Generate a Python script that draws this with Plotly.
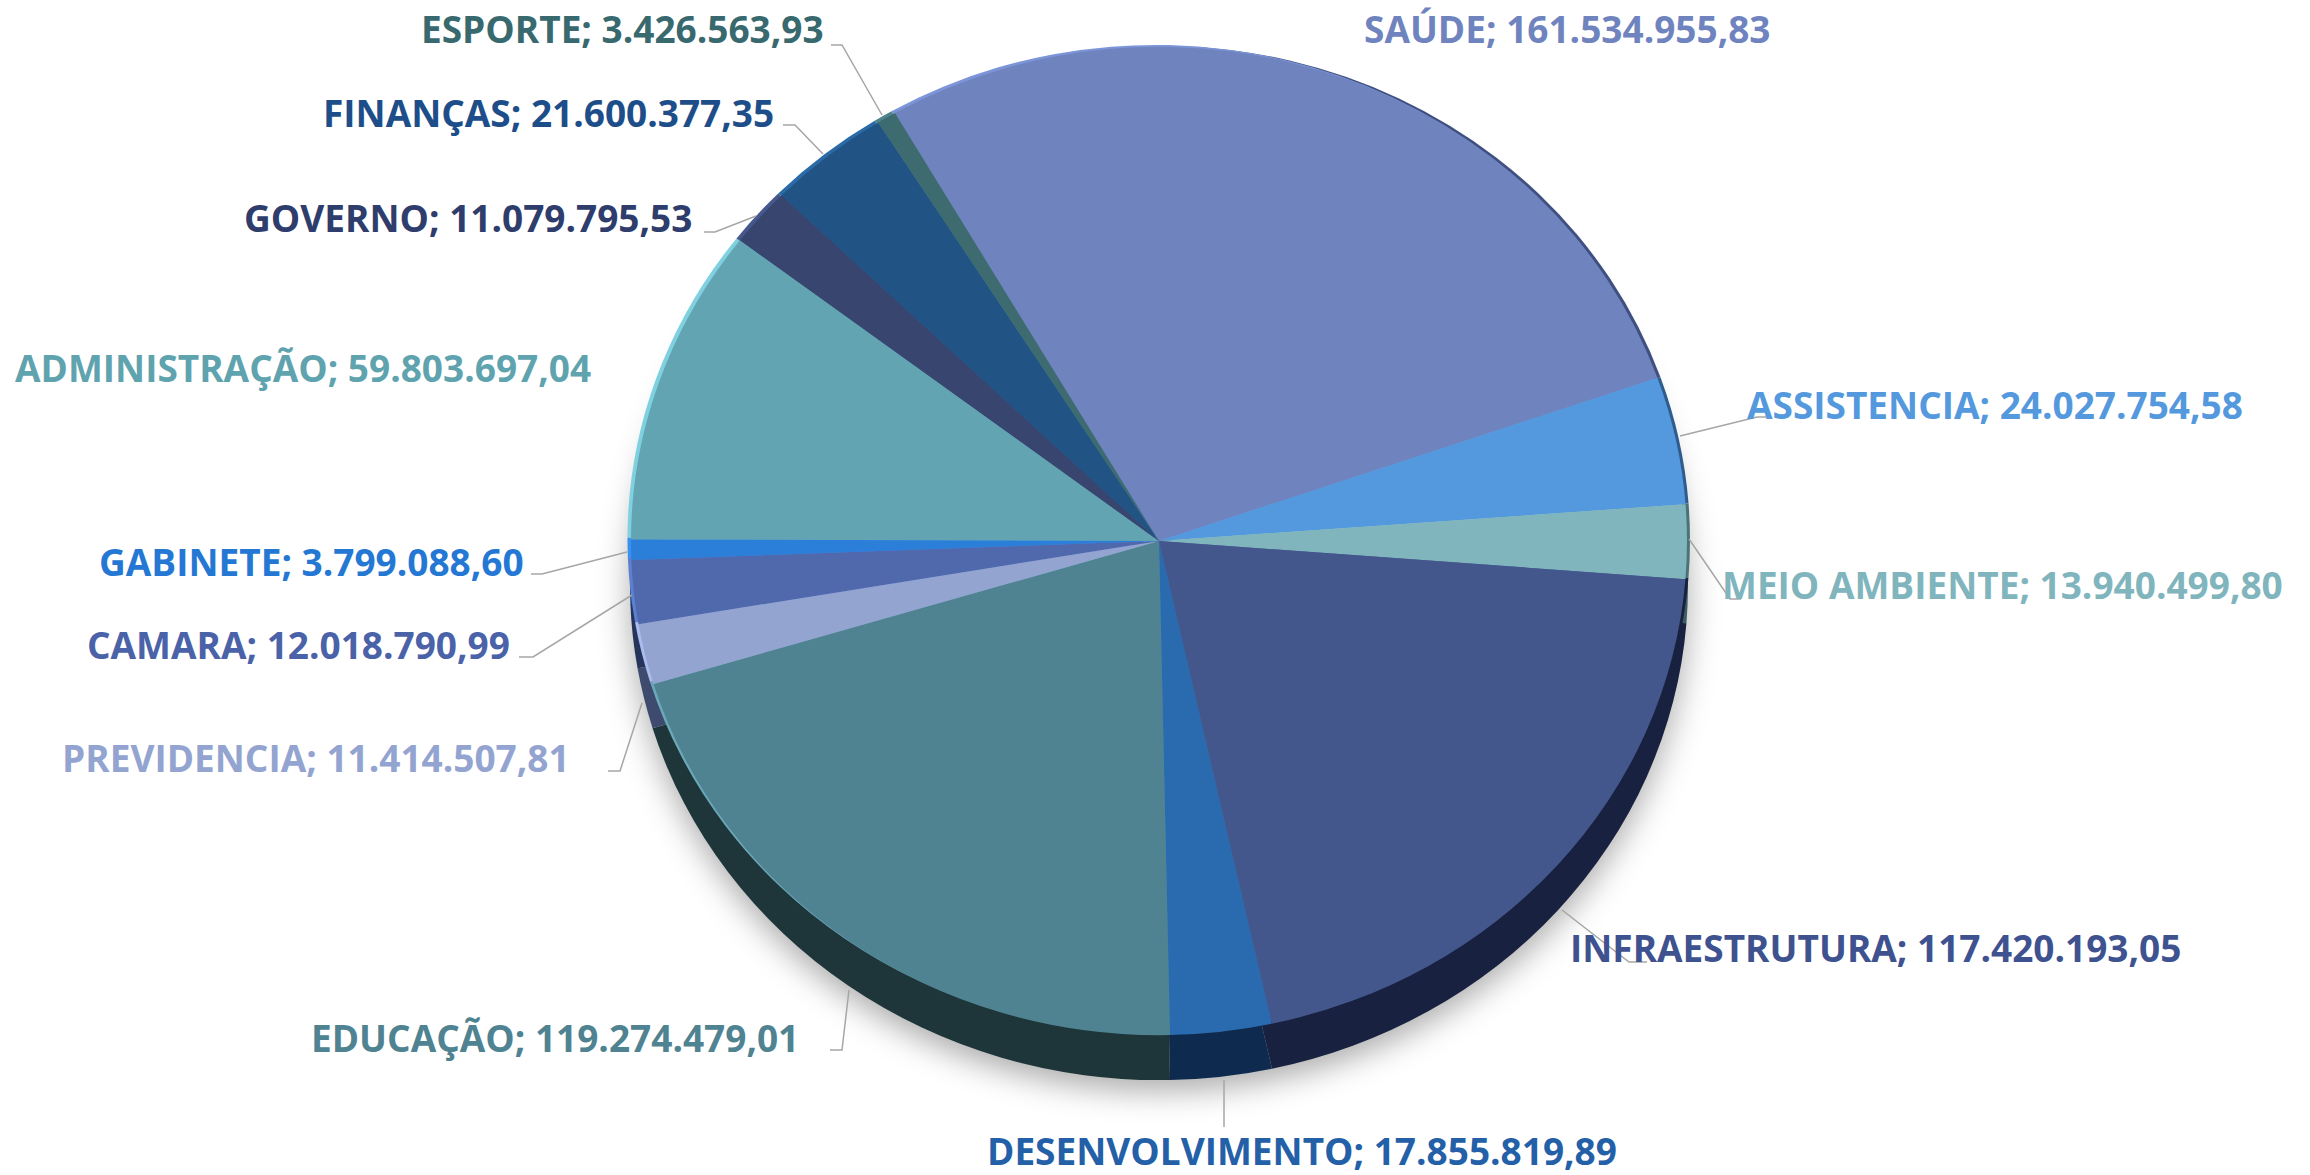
import plotly.graph_objects as go

# ---- data ----
categories = ["SAÚDE", "ASSISTENCIA", "MEIO AMBIENTE", "INFRAESTRUTURA", "DESENVOLVIMENTO",
              "EDUCAÇÃO", "PREVIDENCIA", "CAMARA", "GABINETE", "ADMINISTRAÇÃO",
              "GOVERNO", "FINANÇAS", "ESPORTE"]
values = [161534955.83, 24027754.58, 13940499.80, 117420193.05, 17855819.89,
          119274479.01, 11414507.81, 12018790.99, 3799088.60, 59803697.04,
          11079795.53, 21600377.35, 3426563.93]

# ---- styles ----
face_colors = ["#6F84BE", "#5499DD", "#80B5BD", "#43578C", "#2A6BAF", "#4F8391", "#93A4D1",
               "#5069AD", "#2C7FD9", "#62A4B1", "#37456F", "#215385", "#3E6B70"]
label_colors = ["#6F84BE", "#5499DD", "#80B5BD", "#3F5290", "#2460A8", "#4F8391", "#93A4D1",
                "#4A62A8", "#2478D4", "#5FA3AF", "#2E3D6B", "#1D4E89", "#38696E"]
depth_colors = ["#2F3A5C", "#244E78", "#3C5E63", "#18213F", "#0E2A4E", "#1E353A", "#3E4A6E",
                "#26345C", "#154A80", "#2B545C", "#171E36", "#0D2440", "#1C3336"]
rim_light = ["#7C95D8", "#62AAEE", "#8CC8D0", "#4F669F", "#3079C0", "#6BA8B8", "#AABBEE",
             "#5D7FD0", "#3A90F0", "#7FD0E0", "#45578C", "#2A6AA6", "#4E858B"]
rim_dark = ["#3F5080", "#2F5C8F", "#4A7378", "#18213F", "#0E2A4E", "#1E353A", "#4A5880",
            "#26345C", "#154A80", "#2B545C", "#171E36", "#0D2440", "#1C3336"]

# label centres and leader lines in pixels of the 2310x1175 canvas
W, H = 2310, 1175
label_pos = {"SAÚDE": (1567, 29), "ASSISTENCIA": (1995, 404), "MEIO AMBIENTE": (2002, 585),
             "INFRAESTRUTURA": (1875, 947), "DESENVOLVIMENTO": (1302, 1150), "EDUCAÇÃO": (555, 1037),
             "PREVIDENCIA": (316, 757), "CAMARA": (298, 644), "GABINETE": (311, 561),
             "ADMINISTRAÇÃO": (303, 368), "GOVERNO": (468, 218), "FINANÇAS": (548, 112),
             "ESPORTE": (622, 29)}
leaders = [[(831, 45), (842, 45), (882, 115)], [(783, 125), (795, 125), (823, 154)],
           [(704, 232), (715, 232), (756, 216)], [(531, 574), (542, 574), (627, 552)],
           [(519, 657), (533, 657), (632, 595)], [(608, 771), (620, 771), (642, 703)],
           [(830, 1050), (842, 1050), (849, 990)], [(1224, 1127), (1224, 1080)],
           [(1647, 962), (1629, 962), (1562, 910)], [(1741, 599), (1730, 599), (1689, 539)],
           [(1768, 417), (1757, 417), (1680, 436)]]

CX, CY, R = 1159, 541, 528
K = 497 / 531          # vertical squash of the pie (tilted view)
DEPTH = 47             # depth offset before squash


def fmt(v):
    return f"{v:,.2f}".replace(",", "X").replace(".", ",").replace("X", ".")


def pie(colors, dx=0, dy=0, r=R, name=""):
    return go.Pie(labels=categories, values=values, sort=False, direction="clockwise", rotation=-30,
                  marker=dict(colors=colors, line=dict(width=0)), textinfo="none", showlegend=False,
                  name=name, hoverinfo="label+value+percent",
                  domain=dict(x=[(CX + dx - r) / W, (CX + dx + r) / W],
                              y=[1 - (CY + dy + r) / H, 1 - (CY + dy - r) / H]))


fig = go.Figure([
    pie(depth_colors, dy=DEPTH, r=R + 1, name="depth"),
    pie(rim_dark, dx=3, dy=-1, name="rim dark"),
    pie(rim_light, dx=-3.5, dy=-2, name="rim light"),
    pie(face_colors, name="face"),
])

annotations = [dict(text=f"{c}; {fmt(v)}", x=label_pos[c][0] / W, y=1 - label_pos[c][1] / H,
                    xref="paper", yref="paper", xanchor="center", yanchor="middle", showarrow=False,
                    font=dict(family="Open Sans", size=37, color=col, weight=700))
               for c, v, col in zip(categories, values, label_colors)]

shapes = []
for pts in leaders:
    path = "M " + " L ".join(f"{x / W:.5f},{1 - y / H:.5f}" for x, y in pts)
    shapes.append(dict(type="path", path=path, xref="paper", yref="paper",
                       line=dict(color="#A6A6A6", width=1.5)))

fig.update_layout(width=W, height=H, margin=dict(l=0, r=0, t=0, b=0), paper_bgcolor="white",
                  plot_bgcolor="white", annotations=annotations, shapes=shapes, showlegend=False)

post = f"""
document.body.style.margin = '0';
var traces = document.querySelectorAll('.pielayer .trace');
traces.forEach(function (t, i) {{
  t.setAttribute('transform', 'translate(0,{CY}) scale(1,{K}) translate(0,{-CY})');
}});
if (traces.length) {{
  traces[0].style.filter = 'drop-shadow(0px 12px 16px rgba(0,0,0,0.32))';
}}
"""
fig.write_html("out.html", post_script=post, config=dict(displayModeBar=False))
